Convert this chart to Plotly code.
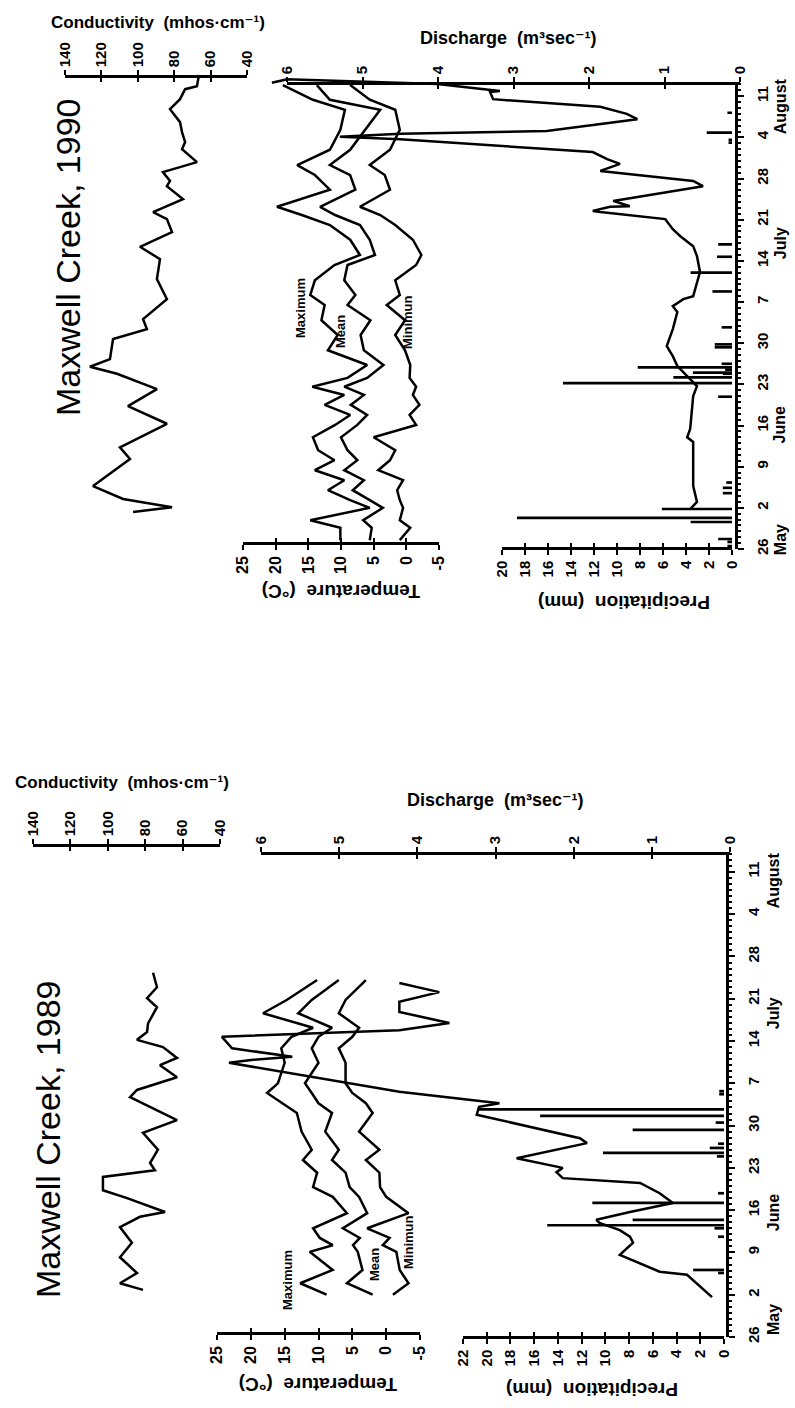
import plotly.graph_objects as go

W, H = 795, 1408
FONT = "Liberation Sans, Arial, Helvetica, DejaVu Sans, sans-serif"

# ---------------- data ----------------
date_tickvals = [0, 7, 14, 21, 28, 35, 42, 49, 56, 63, 70, 77]
date_ticktext = ["26", "2", "9", "16", "23", "30", "7", "14", "21", "28", "4", "11"]
month_names = ["May", "June", "July", "August"]
month_days_1990 = [1.5, 21.0, 52.0, 75.3]
month_days_1989 = [2.8, 20.5, 53.6, 75.6]
cond_ticks = [140, 120, 100, 80, 60, 40]
temp_ticks = [25, 20, 15, 10, 5, 0, -5]
disc_ticks = [6, 5, 4, 3, 2, 1, 0]
prec_ticks_1990 = [0, 2, 4, 6, 8, 10, 12, 14, 16, 18, 20]
prec_ticks_1989 = [0, 2, 4, 6, 8, 10, 12, 14, 16, 18, 20, 22]

# 1990 (days after 26 May)
cond90_day = [6.3, 7.1, 8.5, 10.7, 15.3, 17.3, 21.3, 24.3, 27.2, 29.8, 31.0, 32.3, 35.7, 37.4, 39.1,
              42.5, 45.9, 49.3, 51.4, 53.9, 56.1, 57.3, 59.5, 61.7, 62.6, 64.1, 65.8, 68.0, 69.2,
              70.9, 72.6, 74.8, 76.5, 78.2, 78.7, 80.6]
cond90 = [102.6, 81.2, 108.1, 124.6, 104.3, 109.8, 84.0, 105.4, 89.5, 111.4, 126.3, 115.3, 113.6,
          95.0, 97.1, 84.0, 89.5, 87.8, 98.8, 81.2, 84.0, 91.6, 75.2, 84.0, 82.3, 86.2, 67.5, 75.7,
          74.0, 75.7, 76.8, 82.3, 76.8, 74.0, 67.5, 66.4]

t90_day = [1.5, 3.6, 4.9, 7.0, 8.3, 10.0, 11.7, 13.4, 15.1, 16.8, 19.0, 21.1, 22.8, 24.5, 26.2, 27.6,
           29.1, 31.3, 33.8, 36.4, 38.9, 41.5, 43.2, 45.7, 48.3, 50.0, 52.6, 55.1, 56.8, 58.2, 61.1,
           63.6, 65.3, 67.9, 71.3, 74.7, 76.4, 78.9]
t90_max = [10.1, 10.1, 14.7, 5.6, 8.6, 12.0, 9.5, 14.0, 11.0, 13.5, 14.3, 10.9, 8.6, 12.5, 9.5,
           14.4, 9.0, 6.0, 12.0, 10.5, 13.0, 12.5, 14.7, 14.0, 11.0, 7.1, 8.6, 11.7, 16.0, 19.8,
           11.7, 14.0, 16.7, 11.7, 10.1, 9.4, 14.3, 18.9]
t90_mean = [5.6, 5.3, 6.6, 3.6, 5.6, 8.2, 6.5, 9.5, 7.5, 9.0, 10.0, 7.5, 6.0, 8.5, 6.5, 9.5, 6.0,
            3.5, 6.5, 7.0, 5.5, 9.0, 7.8, 9.5, 9.0, 4.8, 5.6, 7.1, 10.9, 13.2, 7.8, 8.6, 11.7,
            8.6, 6.3, 4.0, 11.7, 13.7]
t90_min = [1.0, -0.6, 1.0, 0.5, 1.0, 1.4, 0.5, 4.3, 2.5, 1.7, 5.0, -1.5, -0.5, -2.0, -1.0, -1.5,
           -0.5, -0.6, 0.2, 1.7, 0.2, 3.0, 1.0, 1.7, -1.5, -2.3, -1.0, 1.7, 4.0, 7.1, 2.5, 3.3,
           5.6, 2.5, 1.0, 1.7, 5.6, 8.6]

disc90_day = [6.8, 8.0, 10.7, 18.2, 19.0, 20.4, 26.0, 27.7, 31.1, 32.8, 34.5, 37.4, 40.3, 41.3,
              42.5, 43.0, 47.1, 49.8, 51.5, 53.2, 54.4, 56.1, 57.3, 57.5, 58.2, 58.3, 59.2, 61.7,
              62.6, 64.3, 65.5, 66.3, 67.5, 69.7, 70.1, 70.6, 71.1, 73.1, 74.0, 75.2, 76.5, 77.7,
              77.9, 79.1, 79.9, 79.3]
disc90 = [0.66, 0.57, 0.62, 0.62, 0.70, 0.66, 0.62, 0.57, 0.83, 0.89, 0.97, 0.89, 0.83, 0.89,
          0.75, 0.62, 0.53, 0.57, 0.62, 0.79, 0.89, 0.99, 1.85, 1.95, 1.72, 1.46, 1.68, 0.49,
          0.62, 1.85, 1.59, 1.76, 1.95, 4.5, 5.3, 4.5, 2.56, 1.36, 1.50, 1.85, 3.27, 3.31, 3.18,
          4.01, 6.0, 6.2]

prec90_day = [0.5, 1.2, 1.7, 4.6, 5.3, 6.8, 9.5, 10.4, 11.3, 25.9, 28.2, 29.2, 29.8, 30.0, 30.5,
              30.9, 31.5, 34.3, 34.8, 37.7, 43.8, 47.0, 49.7, 51.8, 69.1, 69.6, 70.8, 74.2]
prec90 = [0.4, 0.4, 1.2, 3.6, 18.7, 6.1, 0.8, 0.8, 0.5, 1.2, 14.7, 5.1, 0.8, 3.4, 0.6, 8.2, 0.9,
          1.5, 1.5, 0.9, 1.7, 3.6, 1.3, 1.2, 0.3, 0.3, 2.2, 0.4]

# 1989
cond89_day = [7.8, 8.9, 10.6, 13.2, 15.6, 18.2, 19.9, 20.7, 23.0, 24.3, 26.5, 27.6, 28.8, 31.0,
              33.8, 35.9, 39.7, 40.9, 43.0, 45.0, 46.2, 48.0, 49.2, 50.5, 51.9, 54.6, 56.1, 57.9,
              60.3]
cond89 = [81.2, 93.5, 84.4, 93.5, 87.1, 93.5, 82.8, 69.4, 89.7, 102.6, 102.6, 74.8, 77.4, 73.2,
          81.2, 63.0, 88.1, 84.4, 63.0, 72.1, 63.0, 70.5, 84.4, 79.0, 78.5, 73.7, 79.0, 73.7, 75.8]

t89_day = [7.0, 8.9, 11.1, 14.1, 15.2, 16.4, 18.0, 20.5, 23.2, 24.8, 27.2, 29.3, 31.0, 34.0, 37.1,
           38.7, 40.4, 42.0, 45.4, 47.8, 49.7, 51.2, 53.6, 55.8, 59.1]
t89_max = [8.8, 12.7, 7.9, 11.3, 7.9, 9.8, 10.8, 5.8, 7.9, 10.8, 10.2, 12.3, 11.0, 12.5, 13.2,
           15.3, 17.6, 16.0, 15.0, 15.5, 14.0, 10.8, 18.2, 14.7, 10.2]
t89_mean = [2.0, 5.8, 3.5, 4.2, 4.9, 3.9, 6.4, 2.8, 4.0, 5.4, 6.0, 8.0, 7.0, 9.0, 8.0, 10.0, 11.0,
            12.0, 10.0, 11.0, 10.0, 8.0, 13.0, 11.0, 7.0]
t89_min = [-1.0, -3.3, -2.0, -1.5, 0.5, -0.5, 2.8, -3.3, 0.0, 0.9, 1.0, 3.0, 1.0, 4.0, 2.0, 3.0,
           5.0, 6.0, 6.0, 7.0, 5.0, 4.0, 7.0, 6.0, 3.0]

disc89_day = [6.6, 7.3, 9.4, 10.3, 10.8, 12.7, 13.6, 15.6, 16.6, 17.7, 18.9, 19.4, 20.7, 22.2,
              23.8, 25.5, 26.3, 27.3, 28.0, 29.6, 32.1, 32.9, 36.8, 38.1, 38.7, 40.6, 45.4, 45.9,
              46.4, 47.8, 49.7, 50.8, 52.0, 53.8, 55.5, 57.1, 58.6]
disc89 = [0.23, 0.29, 0.47, 0.55, 0.90, 1.24, 1.41, 1.24, 1.28, 1.41, 1.67, 1.71, 1.28, 0.73,
          0.90, 1.15, 2.14, 2.22, 2.14, 2.73, 1.83, 1.92, 3.24, 3.21, 2.95, 4.23, 6.41, 6.1, 5.6,
          6.37, 6.5, 4.23, 3.59, 4.23, 4.23, 3.72, 4.23]

prec89_day = [10.6, 11.1, 16.6, 18.0, 18.5, 19.4, 22.2, 23.8, 29.9, 30.5, 31.3, 32.0, 34.3, 35.5,
              36.6, 37.7, 40.2, 40.7]
prec89 = [0.5, 2.6, 0.5, 0.8, 14.9, 7.7, 11.1, 0.5, 0.6, 10.2, 1.2, 0.5, 7.7, 0.7, 15.5, 20.8,
          0.4, 0.4]

# ---------------- layout helpers ----------------
layout = {}
count = {"x": 0, "y": 0}
traces = []
annotations = []
BASE = dict(showgrid=False, zeroline=False, automargin=False, fixedrange=True)


def new_axis(kind, props):
    count[kind] += 1
    n = count[kind]
    key = f"{kind}axis" if n == 1 else f"{kind}axis{n}"
    layout[key] = props
    return kind if n == 1 else f"{kind}{n}"


def lin(a, pa, b, pb, v):
    return pa + (v - a) * (pb - pa) / (b - a)


def x_geom(a, pa, b, pb, lo, hi):
    p1, p2 = lin(a, pa, b, pb, lo), lin(a, pa, b, pb, hi)
    if p1 <= p2:
        return [p1 / W, p2 / W], [lo, hi]
    return [p2 / W, p1 / W], [hi, lo]


def y_geom(a, pa, b, pb, lo, hi):
    q1, q2 = 1 - lin(a, pa, b, pb, lo) / H, 1 - lin(a, pa, b, pb, hi) / H
    if q1 <= q2:
        return [q1, q2], [lo, hi]
    return [q2, q1], [hi, lo]


def dummy(xa, ya):
    traces.append(go.Scatter(x=[None], y=[None], xaxis=xa, yaxis=ya, showlegend=False,
                             hoverinfo="skip", mode="lines"))


def tickfont(size):
    return dict(family=FONT, size=size, color="black", weight="bold")


def ann(text, x, y, size, angle, bold=True, xref="paper", yref="paper"):
    annotations.append(dict(text=text, x=x, y=y, xref=xref, yref=yref, showarrow=False,
                            textangle=angle, xanchor="center", yanchor="middle",
                            font=dict(family=FONT, size=size, color="black",
                                      weight="bold" if bold else "normal")))


def visible_x(cal, ends, ypos, side, ticks, ydata, size=15):
    dom, rng = x_geom(*cal, *ends)
    common = dict(BASE, domain=dom, range=rng, anchor="free", position=1 - ypos / H, side=side,
                  tickmode="array", tickvals=ticks)
    out = dict(common, showline=True, linecolor="black", linewidth=2.5, ticks="outside",
               ticklen=5, tickwidth=2, tickcolor="black", showticklabels=True,
               ticktext=[str(t) for t in ticks], tickangle=-90, tickfont=tickfont(size))
    xa = new_axis("x", out)
    dummy(xa, ydata)
    inn = dict(common, showline=False, ticks="inside", ticklen=5, tickwidth=2,
               tickcolor="black", showticklabels=False)
    xb = new_axis("x", inn)
    dummy(xb, ydata)


def data_x(cal, lo, hi, ydata):
    dom, rng = x_geom(*cal, lo, hi)
    return new_axis("x", dict(BASE, domain=dom, range=rng, visible=False,
                              showticklabels=False, anchor=ydata))


def line(xs, ys, xa, ya, w=2.5):
    traces.append(go.Scatter(x=xs, y=ys, xaxis=xa, yaxis=ya, mode="lines",
                             line=dict(color="black", width=w), showlegend=False,
                             hoverinfo="skip"))


def build_panel(cfg, d):
    d0, ds = cfg["d0"], cfg["ds"]
    ycal = (0, d0, 1, d0 - ds)
    ydom, yrng = y_geom(*ycal, -2, 83)
    ydata = new_axis("y", dict(BASE, domain=ydom, range=yrng, visible=False,
                               showticklabels=False))

    xc = data_x(cfg["cond"], 150, 30, ydata)
    xt = data_x(cfg["temp"], 28, -12, ydata)
    xq = data_x(cfg["disc"], 7.2, 0, ydata)
    xp = data_x(cfg["prec"], cfg["pmax"] + 2, 0, ydata)

    # visible value axes
    visible_x(cfg["cond"], (140, 40), cfg["cond_y"], "top", cond_ticks, ydata)
    visible_x(cfg["disc"], (6, 0), cfg["disc_y"], "top", disc_ticks, ydata)
    visible_x(cfg["temp"], (25, -5), cfg["temp_y"], "bottom", temp_ticks, ydata, 16)
    visible_x(cfg["prec"], (cfg["pmax"], 0), cfg["prec_y"], "bottom", cfg["pticks"], ydata)

    # visible date axis
    top = (d0 - cfg["date_top"]) / ds
    vdom, vrng = y_geom(*ycal, 0, top)
    vy = new_axis("y", dict(BASE, domain=vdom, range=vrng, anchor="free",
                            position=cfg["date_x"] / W, side="right", showline=True,
                            linecolor="black", linewidth=2.5, ticks="outside", ticklen=6,
                            tickwidth=2, tickcolor="black", tickmode="array",
                            tickvals=date_tickvals, ticktext=date_ticktext, tickangle=-90,
                            tickfont=tickfont(15), ticklabelstandoff=6,
                            minor=dict(tick0=0, dtick=1, ticks="outside", ticklen=3,
                                       tickwidth=1.5, tickcolor="black")))
    dummy(xp, vy)

    # marks
    line(d["cond"], d["cond_day"], xc, ydata)
    line(d["tmax"], d["t_day"], xt, ydata)
    line(d["tmean"], d["t_day"], xt, ydata)
    line(d["tmin"], d["t_day"], xt, ydata)
    line(d["disc"], d["disc_day"], xq, ydata)
    traces.append(go.Bar(x=d["prec"], y=d["prec_day"], orientation="h", width=0.45,
                         marker=dict(color="black", line=dict(width=0)), xaxis=xp,
                         yaxis=ydata, showlegend=False, hoverinfo="skip"))

    # month labels
    for name, day in zip(month_names, d["months"]):
        ann(name, cfg["month_x"] / W, day, 16, -90, yref=ydata)

    # texts
    ann(cfg["title"], cfg["title_pos"][0] / W, 1 - cfg["title_pos"][1] / H, 34, -90, bold=False)
    ann("Conductivity  (mhos·cm⁻¹)", cfg["cond_title"][0] / W,
        1 - cfg["cond_title"][1] / H, 17, 0)
    ann("Discharge  (m³sec⁻¹)", cfg["disc_title"][0] / W,
        1 - cfg["disc_title"][1] / H, 18, 0)
    ann("Temperature  (°C)", cfg["temp_title"][0] / W, 1 - cfg["temp_title"][1] / H, 19, 180)
    ann("Precipitation  (mm)", cfg["prec_title"][0] / W, 1 - cfg["prec_title"][1] / H, 19, 180)
    for txt, (px, py) in zip(["Maximum", "Mean", "Minimun"], cfg["labels"]):
        ann(txt, px / W, 1 - py / H, 13, -90)


cfg90 = dict(d0=549, ds=5.88, date_x=736, date_top=83, month_x=780,
             cond=(140, 65, 40, 247), cond_y=76,
             temp=(25, 243, -5, 439), temp_y=543,
             disc=(6, 287, 0, 740), disc_y=83,
             prec=(20, 502, 0, 732), prec_y=548, pmax=20, pticks=prec_ticks_1990,
             title="Maxwell Creek, 1990", title_pos=(68, 258),
             cond_title=(158, 22), disc_title=(508, 38),
             temp_title=(341, 592), prec_title=(624, 603),
             labels=[(300, 308), (340, 332), (408, 323)])
data90 = dict(cond=cond90, cond_day=cond90_day, t_day=t90_day, tmax=t90_max, tmean=t90_mean,
              tmin=t90_min, disc=disc90, disc_day=disc90_day, prec=prec90, prec_day=prec90_day,
              months=month_days_1990)

cfg89 = dict(d0=1337, ds=6.04, date_x=727, date_top=853, month_x=773,
             cond=(140, 33, 40, 220), cond_y=845,
             temp=(25, 217, -5, 420), temp_y=1333,
             disc=(6, 261, 0, 730), disc_y=853,
             prec=(22, 463, 0, 724), prec_y=1337, pmax=22, pticks=prec_ticks_1989,
             title="Maxwell Creek, 1989", title_pos=(48, 1140),
             cond_title=(122, 782), disc_title=(495, 800),
             temp_title=(318, 1385), prec_title=(592, 1390),
             labels=[(287, 1280), (374, 1265), (408, 1243)])
data89 = dict(cond=cond89, cond_day=cond89_day, t_day=t89_day, tmax=t89_max, tmean=t89_mean,
              tmin=t89_min, disc=disc89, disc_day=disc89_day, prec=prec89, prec_day=prec89_day,
              months=month_days_1989)

build_panel(cfg90, data90)
build_panel(cfg89, data89)

fig = go.Figure(data=traces)
fig.update_layout(width=W, height=H, margin=dict(l=0, r=0, t=0, b=0), autosize=False,
                  paper_bgcolor="white", plot_bgcolor="rgba(0,0,0,0)", showlegend=False,
                  font=dict(family=FONT, color="black"), annotations=annotations,
                  barmode="overlay", **layout)
fig.write_html("out.html", config={"displayModeBar": False},
               post_script="document.body.style.margin='0px';")
